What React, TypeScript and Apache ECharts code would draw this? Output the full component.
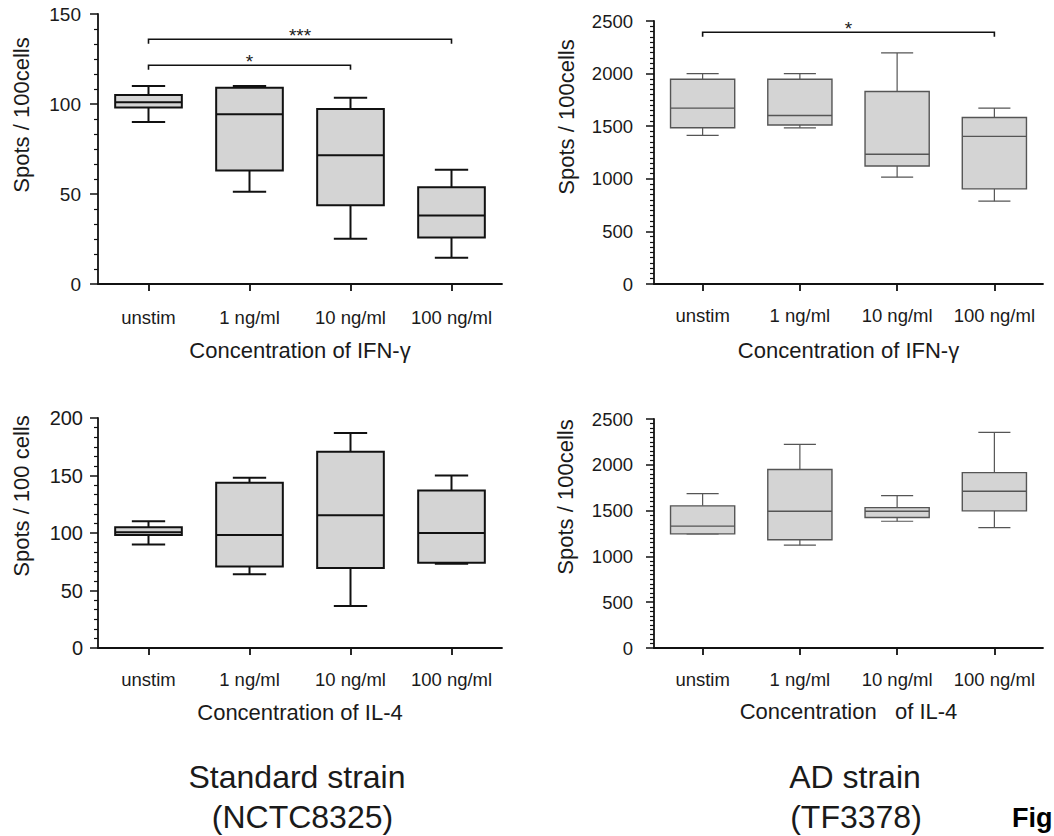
import React, { useEffect, useRef } from 'react';
import * as echarts from 'echarts';

// ---------- data ----------
const categories = ['unstim', '1 ng/ml', '10 ng/ml', '100 ng/ml'];

// each row: [min, Q1, median, Q3, max]
const ifnStandard = [
  [90, 98, 101, 105, 110],
  [51.3, 63, 94.3, 109, 110],
  [25.2, 43.7, 71.5, 97.2, 103.5],
  [14.6, 25.9, 38.1, 53.7, 63.5],
];
const ifnAD = [
  [1413, 1485, 1672, 1947, 2000],
  [1485, 1511, 1602, 1947, 2000],
  [1015, 1122, 1233, 1830, 2197],
  [787, 904, 1403, 1583, 1672],
];
const il4Standard = [
  [90.1, 98.3, 100.6, 105, 110.2],
  [64.2, 70.9, 98.3, 143.6, 148],
  [36.6, 69.5, 115.4, 170.6, 187],
  [73.3, 74.1, 100, 136.9, 150],
];
const il4AD = [
  [1246, 1246, 1330, 1552, 1686],
  [1123, 1181, 1493, 1948, 2224],
  [1384, 1424, 1493, 1533, 1664],
  [1315, 1497, 1711, 1915, 2355],
];

// significance brackets: [fromCategory, toCategory, value]
const ifnStandardBrackets = [
  [0, 3, 136],
  [0, 2, 121.5],
];
const ifnStandardBracketLabels = ['***', '*'];
const ifnADBrackets = [[0, 3, 2393]];
const ifnADBracketLabels = ['*'];

const yMaxStd1 = 150;
const yMaxStd2 = 200;
const yMaxAD = 2500;

// ---------- style ----------
const FONT = '"Liberation Sans", Arial, Helvetica, sans-serif';
const TXT = '#1a1a1a';
const FILL = '#d4d4d4';
const BOX_FRAC = 0.66;
const CAP_FRAC = 0.5;

const darkStyle = { line: '#111', lw: 2, box: '#111', blw: 2 };
const greyStyle = { line: '#555', lw: 1.2, box: '#555', blw: 1.4 };

const panels = [
  {
    grid: { left: 98, top: 14, width: 404, height: 270 },
    max: yMaxStd1, interval: 50, minorSplit: 6,
    data: ifnStandard, xName: 'Concentration of IFN-γ', nameGap: 55,
    labelMargin: 24, yLabelSize: 19, yLabelMargin: 17,
    st: darkStyle, brackets: ifnStandardBrackets, bracketLabels: ifnStandardBracketLabels,
  },
  {
    grid: { left: 654, top: 21, width: 389, height: 263 },
    max: yMaxAD, interval: 500, minorSplit: 10,
    data: ifnAD, xName: 'Concentration of IFN-γ', nameGap: 55,
    labelMargin: 22, yLabelSize: 18.5, yLabelMargin: 21,
    st: greyStyle, brackets: ifnADBrackets, bracketLabels: ifnADBracketLabels,
  },
  {
    grid: { left: 98, top: 418, width: 404, height: 230 },
    max: yMaxStd2, interval: 50, minorSplit: 6,
    data: il4Standard, xName: 'Concentration of IL-4', nameGap: 53,
    labelMargin: 22, yLabelSize: 20, yLabelMargin: 15,
    st: darkStyle, brackets: [], bracketLabels: [],
  },
  {
    grid: { left: 654, top: 419, width: 389, height: 229 },
    max: yMaxAD, interval: 500, minorSplit: 10,
    data: il4AD, xName: 'Concentration   of IL-4', nameGap: 52,
    labelMargin: 22, yLabelSize: 18.5, yLabelMargin: 21,
    st: greyStyle, brackets: [], bracketLabels: [],
  },
];

function makeBoxRender(st: any) {
  return (params: any, api: any) => {
    const xi = api.value(0);
    const cx = api.coord([xi, 0])[0];
    const band = api.size([1, 0])[0];
    const bw = band * BOX_FRAC;
    const cw = bw * CAP_FRAC;
    const y = (i: number) => api.coord([xi, api.value(i)])[1];
    const yMin = y(1), yQ1 = y(2), yMed = y(3), yQ3 = y(4), yMax = y(5);
    const ls = { stroke: st.line, lineWidth: st.lw };
    const bs = { stroke: st.box, lineWidth: st.blw };
    return {
      type: 'group',
      children: [
        { type: 'line', shape: { x1: cx, y1: yMax, x2: cx, y2: yQ3 }, style: ls },
        { type: 'line', shape: { x1: cx, y1: yQ1, x2: cx, y2: yMin }, style: ls },
        { type: 'line', shape: { x1: cx - cw / 2, y1: yMax, x2: cx + cw / 2, y2: yMax }, style: ls },
        { type: 'line', shape: { x1: cx - cw / 2, y1: yMin, x2: cx + cw / 2, y2: yMin }, style: ls },
        {
          type: 'rect',
          shape: { x: cx - bw / 2, y: yQ3, width: bw, height: yQ1 - yQ3 },
          style: { fill: FILL, ...bs },
        },
        { type: 'line', shape: { x1: cx - bw / 2, y1: yMed, x2: cx + bw / 2, y2: yMed }, style: bs },
      ],
    };
  };
}

function makeBracketRender(labels: string[]) {
  return (params: any, api: any) => {
    const p1 = api.coord([api.value(0), api.value(2)]);
    const p2 = api.coord([api.value(1), api.value(2)]);
    const tick = 4.5;
    return {
      type: 'group',
      children: [
        {
          type: 'polyline',
          shape: { points: [[p1[0], p1[1] + tick], [p1[0], p1[1]], [p2[0], p2[1]], [p2[0], p2[1] + tick]] },
          style: { stroke: '#111', lineWidth: 1.6, fill: 'none' },
        },
        {
          type: 'text',
          x: (p1[0] + p2[0]) / 2,
          y: p1[1] - 4,
          style: {
            text: labels[params.dataIndex],
            fontFamily: FONT,
            fontSize: 19,
            fill: TXT,
            align: 'center',
            verticalAlign: 'middle',
          },
        },
      ],
    };
  };
}

function buildOption() {
  const grids: any[] = [];
  const xAxes: any[] = [];
  const yAxes: any[] = [];
  const series: any[] = [];
  panels.forEach((p, i) => {
    const axisColor = '#111';
    grids.push({ ...p.grid, containLabel: false });
    xAxes.push({
      type: 'category',
      gridIndex: i,
      data: categories,
      boundaryGap: true,
      name: p.xName,
      nameLocation: 'middle',
      nameGap: p.nameGap,
      nameTextStyle: { fontFamily: FONT, fontSize: 22, color: TXT },
      axisLine: { show: true, lineStyle: { color: axisColor, width: 1.8 } },
      axisTick: { show: true, alignWithLabel: true, length: 7, lineStyle: { color: axisColor, width: 1.8 } },
      axisLabel: { fontFamily: FONT, fontSize: 18.5, color: TXT, margin: p.labelMargin, interval: 0 },
      splitLine: { show: false },
    });
    yAxes.push({
      type: 'value',
      gridIndex: i,
      min: 0,
      max: p.max,
      interval: p.interval,
      axisLine: { show: true, lineStyle: { color: axisColor, width: 1.8 } },
      axisTick: { show: true, length: 8, lineStyle: { color: axisColor, width: 1.5 } },
      minorTick: { show: true, splitNumber: p.minorSplit, length: 4, lineStyle: { color: axisColor, width: 1.2 } },
      axisLabel: {
        fontFamily: FONT,
        fontSize: p.yLabelSize,
        color: TXT,
        margin: p.yLabelMargin,
        formatter: (v: number) => String(v),
      },
      splitLine: { show: false },
      minorSplitLine: { show: false },
    });
    series.push({
      type: 'custom',
      xAxisIndex: i,
      yAxisIndex: i,
      renderItem: makeBoxRender(p.st),
      encode: { x: 0, y: [1, 2, 3, 4, 5] },
      data: p.data.map((row, k) => [k, ...row]),
      z: 3,
    });
    if (p.brackets.length) {
      series.push({
        type: 'custom',
        xAxisIndex: i,
        yAxisIndex: i,
        renderItem: makeBracketRender(p.bracketLabels),
        encode: { x: [0, 1], y: 2 },
        data: p.brackets,
        z: 4,
      });
    }
  });

  const yName = (text: string, x: number, y: number) => ({
    type: 'text',
    x,
    y,
    rotation: Math.PI / 2,
    style: { text, fontFamily: FONT, fontSize: 22, fill: TXT, align: 'center', verticalAlign: 'middle' },
  });
  const title = (text: string, x: number, y: number) => ({
    type: 'text',
    x,
    y,
    style: { text, fontFamily: FONT, fontSize: 32, fill: TXT, align: 'center', verticalAlign: 'middle' },
  });

  return {
    animation: false,
    backgroundColor: '#ffffff',
    grid: grids,
    xAxis: xAxes,
    yAxis: yAxes,
    series,
    graphic: [
      yName('Spots / 100cells', 21, 115),
      yName('Spots / 100cells', 566, 117),
      yName('Spots / 100 cells', 21, 496),
      yName('Spots / 100cells', 565, 497),
      title('Standard strain', 297, 777),
      title(' (NCTC8325)', 298, 817),
      title('AD strain', 855, 777),
      title('(TF3378)', 856, 817),
      {
        type: 'text',
        x: 1012,
        y: 818,
        style: { text: 'Fig', fontFamily: FONT, fontSize: 27, fontWeight: 'bold', fill: '#000', align: 'left', verticalAlign: 'middle' },
      },
    ],
  };
}

export default function App() {
  const ref = useRef<HTMLDivElement>(null);
  useEffect(() => {
    if (!ref.current) return;
    const chart = echarts.init(ref.current, undefined, { renderer: 'svg' });
    chart.setOption(buildOption() as any);
    return () => chart.dispose();
  }, []);
  return (
    <div
      ref={ref}
      style={{ position: 'fixed', left: 0, top: 0, width: 1054, height: 836, background: '#fff' }}
    />
  );
}
